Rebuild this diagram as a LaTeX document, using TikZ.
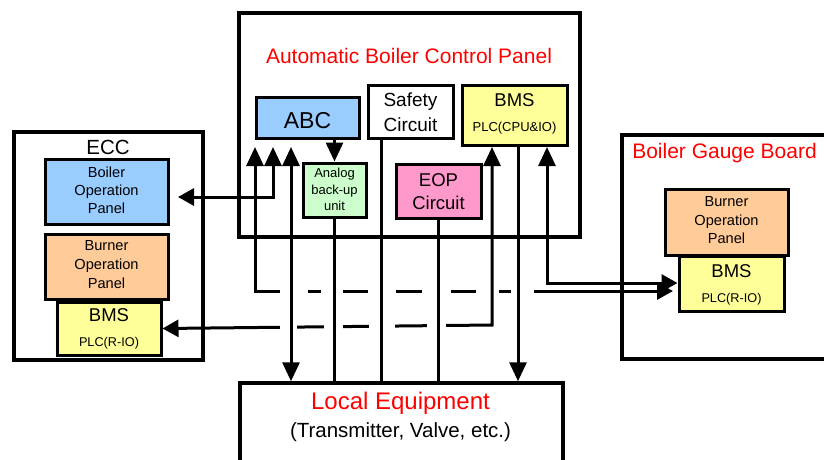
\documentclass[tikz,border=0pt]{standalone}
\usepackage{fontspec}
\setmainfont{Liberation Sans}
\usetikzlibrary{arrows.meta,calc}
\definecolor{abcblue}{HTML}{99CCFF}
\definecolor{anagreen}{HTML}{CCFFCC}
\definecolor{eoppink}{HTML}{FF99CC}
\definecolor{bmsyellow}{HTML}{FFFF99}
\definecolor{burnorange}{HTML}{FFCC99}
\definecolor{txtred}{HTML}{FF0000}
\newcommand\fsz[1]{\fontsize{#1}{#1}\selectfont}
\begin{document}
\begin{tikzpicture}[x=1pt,y=-1pt,
  outerbox/.style={draw, line width=3.5pt, inner sep=0pt, fill=white},
  innerbox/.style={draw, line width=3pt, inner sep=0pt},
  lbl/.style={anchor=base, inner sep=0pt},
  conn/.style={line width=3pt},
  upT/.tip={Triangle[length=19pt,width=17pt]},
  sideT/.tip={Triangle[length=16pt,width=17pt]},
  gapw/.style={fill=white}]
\clip (0,0) rectangle (824,459);
\fill[white] (0,0) rectangle (824,459);

% ---------- outer boxes ----------
\node[outerbox, minimum width=341, minimum height=224] (panel) at (409.5,125) {};
\node[outerbox, minimum width=189, minimum height=228] (ecc) at (108.5,246) {};
\node[outerbox, minimum width=208, minimum height=224] (gauge) at (726,247) {};
\node[outerbox, minimum width=323, minimum height=97] (loc) at (401.5,431.5) {};

% ---------- inner boxes ----------
\node[innerbox, fill=abcblue, minimum width=103, minimum height=41] (abc) at (307.5,117.5) {};
\node[innerbox, fill=white, minimum width=85, minimum height=53] (safe) at (410.5,111.5) {};
\node[innerbox, fill=bmsyellow, minimum width=105, minimum height=60] (bms) at (514.5,115) {};
\node[innerbox, fill=anagreen, minimum width=63, minimum height=54] (ana) at (334.5,190) {};
\node[innerbox, fill=eoppink, minimum width=85, minimum height=54] (eop) at (438.5,191) {};
\node[innerbox, fill=abcblue, minimum width=123, minimum height=65] (bop) at (106.5,191.5) {};
\node[innerbox, fill=burnorange, minimum width=123, minimum height=65] (burn) at (106.5,266.5) {};
\node[innerbox, fill=bmsyellow, minimum width=104, minimum height=53] (ebms) at (109,328.5) {};
\node[innerbox, fill=burnorange, minimum width=123, minimum height=66] (gburn) at (726.5,222) {};
\node[innerbox, fill=bmsyellow, minimum width=105, minimum height=55] (gbms) at (731.5,283.5) {};

% ---------- texts ----------
\node[lbl, text=txtred, font=\fsz{21}] (tpanel) at (409,63) {Automatic Boiler Control Panel};
\node[lbl, font=\fsz{23}] (tabc) at (307.5,128) {ABC};
\node[lbl, font=\fsz{19}] (tsafe1) at (410.5,106) {Safety};
\node[lbl, font=\fsz{19}] (tsafe2) at (410.5,131) {Circuit};
\node[lbl, font=\fsz{18.5}] (tbms1) at (514.5,106) {BMS};
\node[lbl, font=\fsz{13}] (tbms2) at (514.5,131) {PLC(CPU\&IO)};
\node[lbl, font=\fsz{13}] (tana1) at (334.5,177) {Analog};
\node[lbl, font=\fsz{13}] (tana2) at (334.5,194) {back-up};
\node[lbl, font=\fsz{13}] (tana3) at (334.5,210) {unit};
\node[lbl, font=\fsz{18.5}] (teop1) at (438.5,186) {EOP};
\node[lbl, font=\fsz{18.5}] (teop2) at (438.5,209) {Circuit};

\node[lbl, font=\fsz{20.5}] (tecc) at (108,154) {ECC};
\node[lbl, font=\fsz{14.6}] (tbop1) at (106.5,177) {Boiler};
\node[lbl, font=\fsz{14.6}] (tbop2) at (106.5,195) {Operation};
\node[lbl, font=\fsz{14.6}] (tbop3) at (106.5,213.5) {Panel};
\node[lbl, font=\fsz{14.6}] (tburn1) at (106.5,250) {Burner};
\node[lbl, font=\fsz{14.6}] (tburn2) at (106.5,269) {Operation};
\node[lbl, font=\fsz{14.6}] (tburn3) at (106.5,288) {Panel};
\node[lbl, font=\fsz{18.5}] (tebms1) at (109,321) {BMS};
\node[lbl, font=\fsz{12.7}] (tebms2) at (109,346) {PLC(R-IO)};

\node[lbl, text=txtred, font=\fsz{21}] (tgauge) at (724.5,158) {Boiler Gauge Board};
\node[lbl, font=\fsz{14.6}] (tgburn1) at (726.5,206) {Burner};
\node[lbl, font=\fsz{14.6}] (tgburn2) at (726.5,225) {Operation};
\node[lbl, font=\fsz{14.6}] (tgburn3) at (726.5,243) {Panel};
\node[lbl, font=\fsz{18.5}] (tgbms1) at (731.5,277) {BMS};
\node[lbl, font=\fsz{12.7}] (tgbms2) at (731.5,302) {PLC(R-IO)};

\node[lbl, text=txtred, font=\fsz{24}] (tloc1) at (400.5,409) {Local Equipment};
\node[lbl, font=\fsz{20.5}] (tloc2) at (400.5,437) {(Transmitter, Valve, etc.)};

% ---------- coordinates ----------
\coordinate (a1) at (255,147);   % tip below ABC
\coordinate (c1) at (255,291);   % corner
\coordinate (e1) at (673,291);   % tip at gauge BMS
\coordinate (a2) at (273,147);
\coordinate (c2) at (273,197);
\coordinate (e2) at (178,197);
\coordinate (a3) at (291,147);
\coordinate (a8) at (492,147);
\coordinate (c8) at (492,325);
\coordinate (a10) at (547,147);
\coordinate (c10) at (547,283);
\coordinate (xs) at (381,0);
\coordinate (xb) at (518,0);

% connector ABC <-> gauge BMS (broken at crossings)
\draw[conn, upT-sideT] (a1) -- (c1) -- (e1);
\foreach \l/\r in {280/308,321/343,368/396,422/451,476/499,511/534}
  \fill[gapw] (\l,286) rectangle (\r,296);
% connector BMS <-> ECC BMS (broken at crossings)
\draw[conn, upT-sideT] (a8) -- (c8) -- (ebms.east);
\foreach \l/\r in {280/297,324/343,369/395,427/446}
  \fill[gapw] (\l,320) rectangle (\r,330);

% other connectors
\draw[conn, upT-sideT] (a2) -- (c2) -- (e2);
\draw[conn, upT-upT] (a3) -- (a3 |- loc.north);
\draw[conn, -upT] (abc.south -| ana.north) -- (ana.north);
\draw[conn] (ana.south) -- (ana.south |- loc.north);
\draw[conn] (safe.south -| xs) -- (xs |- loc.north);
\draw[conn] (eop.south) -- (eop.south |- loc.north);
\draw[conn, -upT] (bms.south -| xb) -- (xb |- loc.north);
\draw[conn, upT-sideT] (a10) -- (c10) -- (gbms.west |- c10);
\end{tikzpicture}
\end{document}
